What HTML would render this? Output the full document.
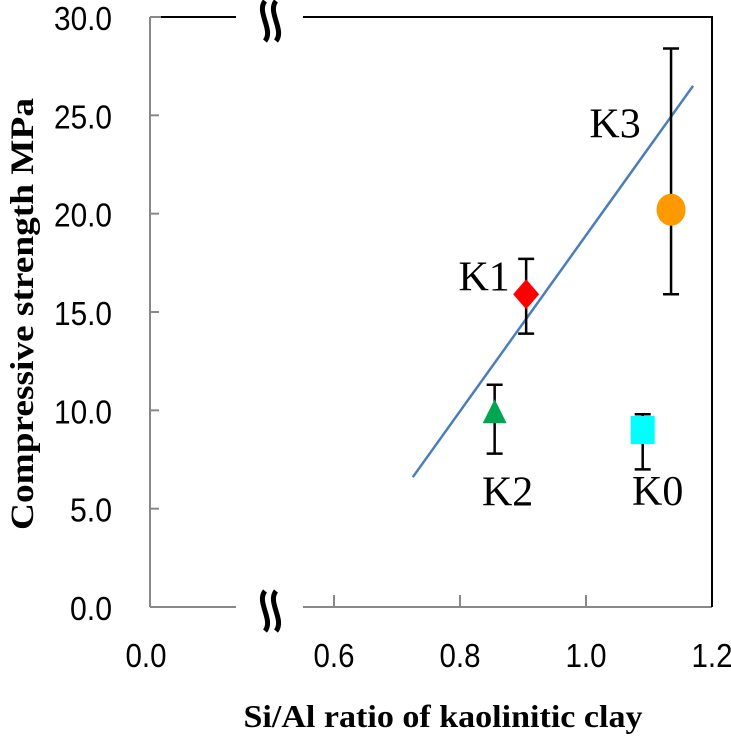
<!DOCTYPE html>
<html><head><meta charset="utf-8"><style>
body{margin:0;background:#fff}
</style></head><body>
<svg width="731" height="734" xmlns="http://www.w3.org/2000/svg">
<g id="axes"></g><g id="marks"></g>
</svg>
<script>
const categories=["K0","K1","K2","K3"];
const xValues=[1.09,0.905,0.855,1.135];
const yValues=[9.0,15.9,9.9,20.2];
const errLow=[7.0,13.9,7.8,15.9];
const errHigh=[9.8,17.7,11.3,28.4];
const trendX=[0.725,1.17];
const trendY=[6.6,26.5];
const yTicks=[0,5,10,15,20,25,30];
const xTicks=[0.6,0.8,1.0,1.2];

const NS="http://www.w3.org/2000/svg";
const L=150,R=712,T=17,B=607;
const SANS='font-family:"Liberation Sans",sans-serif';
const SERIF='font-family:"Liberation Serif",serif';
function X(v){return 334+(v-0.6)/0.2*126;}
function Y(v){return B-v/30*(B-T);}
function mk(p,tag,a){const e=document.createElementNS(NS,tag);for(const k in a)e.setAttribute(k,a[k]);p.appendChild(e);return e;}
const ax=document.getElementById('axes'),mg=document.getElementById('marks');
let e;
e=mk(ax,'line',{x1:L,y1:T,x2:L,y2:B,stroke:'#888','stroke-width':2});


e=mk(ax,'path',{d:`M${L} ${B}H236M303 ${B}H${R}`,stroke:'#888','stroke-width':2,fill:'none'});


e=mk(ax,'path',{d:`M161 ${T}H236M303 ${T}H${R}V${B}`,stroke:'#000','stroke-width':2,fill:'none'});


mk(ax,'line',{x1:L,y1:T,x2:161,y2:T,stroke:'#888','stroke-width':2});
[T,B].forEach((yy,i)=>{
 e=mk(ax,'path',{d:`M265 ${yy-16}c-9 11 9 29 0 40M276 ${yy-16}c-9 11 9 29 0 40`,stroke:'#000','stroke-width':5,fill:'none'});
 
 
});
xTicks.forEach(v=>{
 if(v<1.2)mk(ax,'line',{x1:X(v),y1:B,x2:X(v),y2:B-12,stroke:'#888','stroke-width':2});
});
yTicks.forEach(v=>{
 if(v>0&&v<30)mk(ax,'line',{x1:L,y1:Y(v),x2:L+9,y2:Y(v),stroke:'#888','stroke-width':2});
});
["0.0"].concat(xTicks.map(v=>v.toFixed(1))).forEach((s,i)=>{
 const xx=i==0?L-4:X(xTicks[i-1]);
 e=mk(ax,'text',{x:xx,y:667,'font-size':33,'text-anchor':'middle',style:SANS,textLength:41,lengthAdjust:'spacingAndGlyphs'});e.textContent=s;
 
 
});
yTicks.forEach(v=>{
 const s=v.toFixed(1);
 e=mk(ax,'text',{x:112,y:Y(v)+13,'font-size':33,'text-anchor':'end',style:SANS,textLength:s.length==4?58:42,lengthAdjust:'spacingAndGlyphs'});e.textContent=s;
 
 
});
e=mk(ax,'text',{x:443,y:727,'font-size':32,'font-weight':'bold','text-anchor':'middle',style:SERIF,textLength:399,lengthAdjust:'spacingAndGlyphs'});
e.textContent='Si/Al ratio of kaolinitic clay';


e=mk(ax,'text',{x:0,y:0,'font-size':33,'font-weight':'bold','text-anchor':'middle',style:SERIF,textLength:432,lengthAdjust:'spacingAndGlyphs',transform:'translate(33 314) rotate(-90)'});
e.textContent='Compressive strength  MPa';


e=mk(mg,'line',{x1:X(trendX[0]),y1:Y(trendY[0]),x2:X(trendX[1]),y2:Y(trendY[1]),stroke:'#4a7ebb','stroke-width':2.5});


const labOff=[[15,75],[-42,-4],[13,93],[-56,-72]];
categories.forEach((c,i)=>{
 const cx=X(xValues[i]),cy=Y(yValues[i]);
 e=mk(mg,'path',{d:`M${cx} ${Y(errLow[i])}V${Y(errHigh[i])}M${cx-8} ${Y(errLow[i])}h16M${cx-8} ${Y(errHigh[i])}h16`,stroke:'#000','stroke-width':2.5,fill:'none'});
 
 
 let m;
 if(c=='K0')m=mk(mg,'rect',{x:cx-12,y:cy-14,width:24,height:28,fill:'#00ffff'});
 else if(c=='K1')m=mk(mg,'path',{d:`M${cx} ${cy-15}L${cx+13} ${cy}L${cx} ${cy+15}L${cx-13} ${cy}Z`,fill:'#ff0000'});
 else if(c=='K2')m=mk(mg,'path',{d:`M${cx} ${cy-13}L${cx+12} ${cy+11}L${cx-12} ${cy+11}Z`,fill:'#00a651'});
 else m=mk(mg,'ellipse',{cx:cx,cy:cy,rx:14.5,ry:16,fill:'#ff9900'});
 
 
 e=mk(mg,'text',{x:cx+labOff[i][0],y:cy+labOff[i][1],'font-size':42,'text-anchor':'middle',style:SERIF});
 e.textContent=c;
 
 
});
</script>
</body></html>
